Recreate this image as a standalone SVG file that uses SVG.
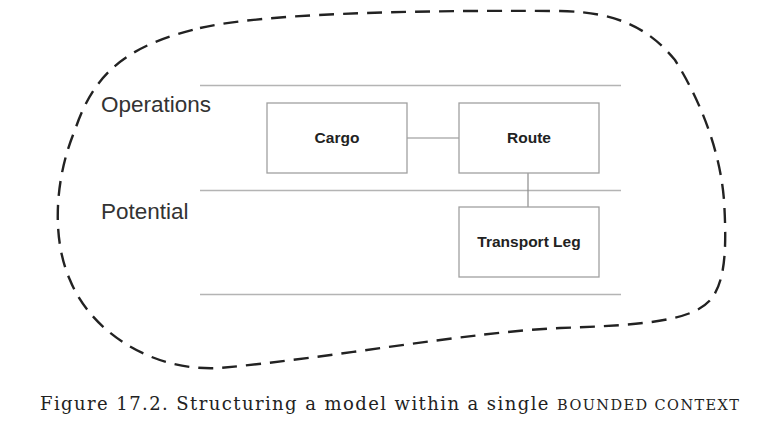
<svg xmlns="http://www.w3.org/2000/svg" width="777" height="426" viewBox="0 0 777 426">
<style>
.band{stroke:#b4b4b4;stroke-width:1.6;fill:none}
.box{fill:#ffffff;stroke:#a0a0a0;stroke-width:1.3}
.conn{stroke:#8c8c8c;stroke-width:1.2;fill:none}
.lbl{font-family:"Liberation Sans",Arial,sans-serif;font-weight:bold;font-size:15.5px;fill:#222;text-anchor:middle}
.layer{font-family:"Liberation Sans",Arial,sans-serif;font-size:22.5px;fill:#333}
.bc{fill:none;stroke:#222;stroke-width:2.4;stroke-dasharray:15 9}
.cap{font-family:"DejaVu Serif","Liberation Serif",serif;font-size:18px;fill:#222}
</style>
<rect width="777" height="426" fill="#ffffff"/>
<path class="bc" d="M200,28 C260,14 400,10 560,11 C620,12 650,30 675,60 C700,100 720,150 724,200 C727,250 725,280 712,298 C695,320 650,325 560,328 C470,332 330,358 220,368 C150,372 90,330 70,280 C52,240 54,180 75,130 C95,70 130,45 200,28 Z"/>
<g id="bands">
<line class="band" x1="200" y1="85.5" x2="621" y2="85.5"/>
<line class="band" x1="200" y1="190.5" x2="621" y2="190.5"/>
<line class="band" x1="200" y1="294.5" x2="621" y2="294.5"/>
<text class="layer" x="101" y="112">Operations</text>
<text class="layer" x="101" y="219">Potential</text>
</g>
<g id="connectors">
<line class="conn" x1="407" y1="138" x2="459" y2="138"/>
<line class="conn" x1="528" y1="173" x2="528" y2="207"/>
</g>
<g id="cargo">
<rect class="box" x="267" y="103" width="140" height="70"/>
<text class="lbl" x="337" y="143">Cargo</text>
</g>
<g id="route">
<rect class="box" x="459" y="103" width="140" height="70"/>
<text class="lbl" x="529" y="143">Route</text>
</g>
<g id="transport-leg">
<rect class="box" x="459" y="207" width="140" height="70"/>
<text class="lbl" x="529" y="247">Transport Leg</text>
</g>
<text class="cap" x="40" y="410" textLength="699" lengthAdjust="spacing">Figure 17.2. Structuring a model within a single <tspan font-size="14.5">BOUNDED CONTEXT</tspan></text>
</svg>
